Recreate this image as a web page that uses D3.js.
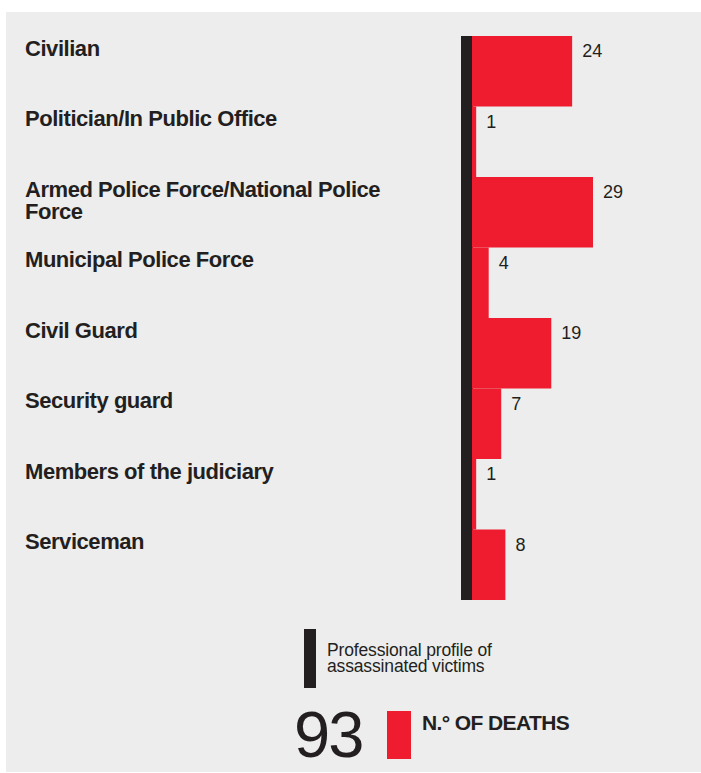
<!DOCTYPE html>
<html>
<head>
<meta charset="utf-8">
<script src="https://cdn.jsdelivr.net/npm/d3@7"></script>
<style>
  html, body { margin: 0; padding: 0; background: #ffffff; }
  svg { display: block; }
  text { font-family: "Liberation Sans", Arial, Helvetica, sans-serif; fill: #231f20; }
</style>
</head>
<body>
<svg id="chart" width="701" height="773"></svg>
<script>
// Professional profile of assassinated victims and number of deaths
const categories = [
  "Civilian",
  "Politician/In Public Office",
  "Armed Police Force/National Police|Force",
  "Municipal Police Force",
  "Civil Guard",
  "Security guard",
  "Members of the judiciary",
  "Serviceman"
];
const deaths = [24, 1, 29, 4, 19, 7, 1, 8];
const totalDeaths = 93;
const legendProfile = ["Professional profile of", "assassinated victims"];
const legendDeaths = "N.° OF DEATHS";

const RED = "#ee1c2e";
const DARK = "#231f20";

const svg = d3.select("#chart");

// panel background
svg.append("rect")
  .attr("x", 6).attr("y", 12)
  .attr("width", 695).attr("height", 760)
  .attr("fill", "#ededed");

const data = categories.map((c, i) => ({ label: c, value: deaths[i] }));

const y = d3.scaleBand()
  .domain(categories)
  .range([36, 600])
  .padding(0);

const x = d3.scaleLinear()
  .domain([0, 29])
  .range([472, 593]);

// dark spine behind the bars
svg.append("rect")
  .attr("x", 461).attr("y", y.range()[0])
  .attr("width", 12).attr("height", y.range()[1] - y.range()[0])
  .attr("fill", DARK);

// bars
svg.append("g").selectAll("rect")
  .data(data)
  .join("rect")
  .attr("x", x(0))
  .attr("y", d => y(d.label))
  .attr("width", d => x(d.value) - x(0))
  .attr("height", y.bandwidth())
  .attr("fill", RED);

// value labels
svg.append("g").selectAll("text")
  .data(data)
  .join("text")
  .attr("x", d => x(d.value) + 10)
  .attr("y", d => y(d.label) + 21)
  .attr("font-size", 18)
  .text(d => d.value);

// category labels (a "|" marks a line break)
const cat = svg.append("g").selectAll("text")
  .data(data)
  .join("text")
  .attr("x", 25)
  .attr("y", d => y(d.label) + 19.5)
  .attr("font-size", 22)
  .attr("font-weight", "bold")
  .attr("letter-spacing", "-0.45px");
cat.selectAll("tspan")
  .data(d => d.label.split("|"))
  .join("tspan")
  .attr("x", 25)
  .attr("dy", (d, i) => i === 0 ? 0 : 22)
  .text(d => d);

// legend: profile key
svg.append("rect")
  .attr("x", 304).attr("y", 629)
  .attr("width", 12).attr("height", 59)
  .attr("fill", DARK);
svg.append("g").selectAll("text")
  .data(legendProfile)
  .join("text")
  .attr("x", 327)
  .attr("y", (d, i) => 655.5 + i * 16)
  .attr("font-size", 17.5)
  .attr("letter-spacing", "-0.15px")
  .text(d => d);

// legend: total deaths key
svg.append("text")
  .attr("x", 294)
  .attr("y", 756.5)
  .attr("font-size", 65)
  .attr("letter-spacing", "-2px")
  .text(totalDeaths);
svg.append("rect")
  .attr("x", 387).attr("y", 711)
  .attr("width", 24).attr("height", 48)
  .attr("fill", RED);
svg.append("text")
  .attr("x", 422)
  .attr("y", 730)
  .attr("font-size", 21)
  .attr("font-weight", "bold")
  .attr("letter-spacing", "-0.6px")
  .text(legendDeaths);
</script>
</body>
</html>
